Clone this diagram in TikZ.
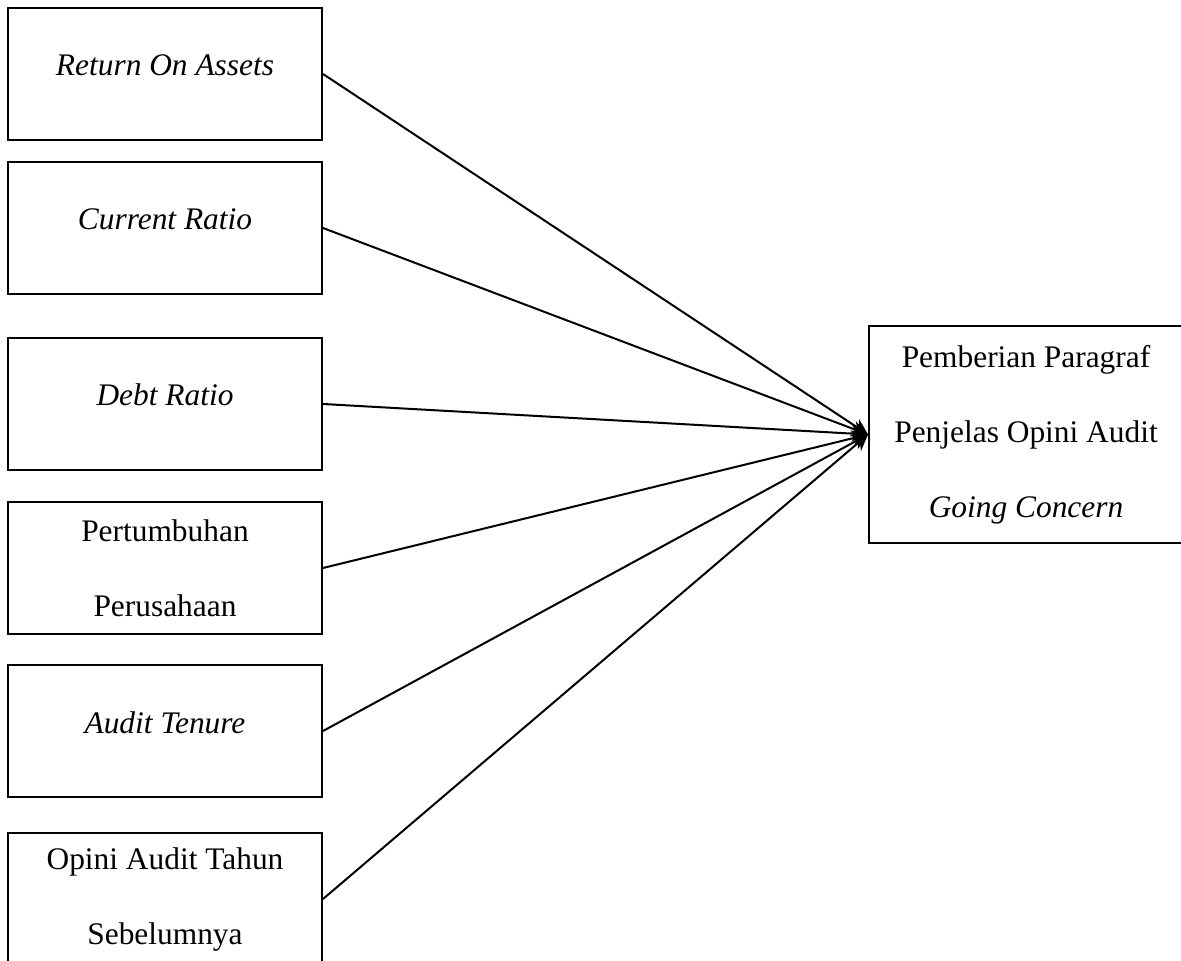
\documentclass[tikz,border=0pt]{standalone}
\usepackage{fontspec}
\setmainfont{Liberation Serif}
\usetikzlibrary{arrows.meta}

\begin{document}
\begin{tikzpicture}[x=0.5pt,y=-0.5pt,
  varbox/.style={draw,line width=1pt,minimum width=157pt,minimum height=66pt,
    inner sep=0pt,align=center,font=\fontsize{15.7}{37.5}\selectfont},
  onebox/.style={varbox,text height=10pt,text depth=8pt},
  goalbox/.style={varbox,minimum height=108.5pt},
  link/.style={line width=1pt,-{Stealth[length=8pt,width=8pt]}}]
  \useasboundingbox (0,0) rectangle (1181,961);

  % independent variables
  \node[onebox] (roa) at (165,74)  {\textit{Return On Assets}};
  \node[onebox] (cr)  at (165,228) {\textit{Current Ratio}};
  \node[onebox] (dr)  at (165,404) {\textit{Debt Ratio}};
  \node[varbox] (pp)  at (165,568) {Pertumbuhan\\Perusahaan};
  \node[onebox] (at)  at (165,731) {\textit{Audit Tenure}};
  \node[varbox] (oa)  at (165,899) {Opini Audit Tahun\\Sebelumnya};

  % dependent variable
  \node[goalbox] (gc) at (1026,434.5) {Pemberian Paragraf\\Penjelas Opini Audit\\\textit{Going Concern}};

  % connectors
  \foreach \v in {roa,cr,dr,pp,at,oa} {
    \draw[link] (\v.east) -- (gc.west);
  }
\end{tikzpicture}
\end{document}
